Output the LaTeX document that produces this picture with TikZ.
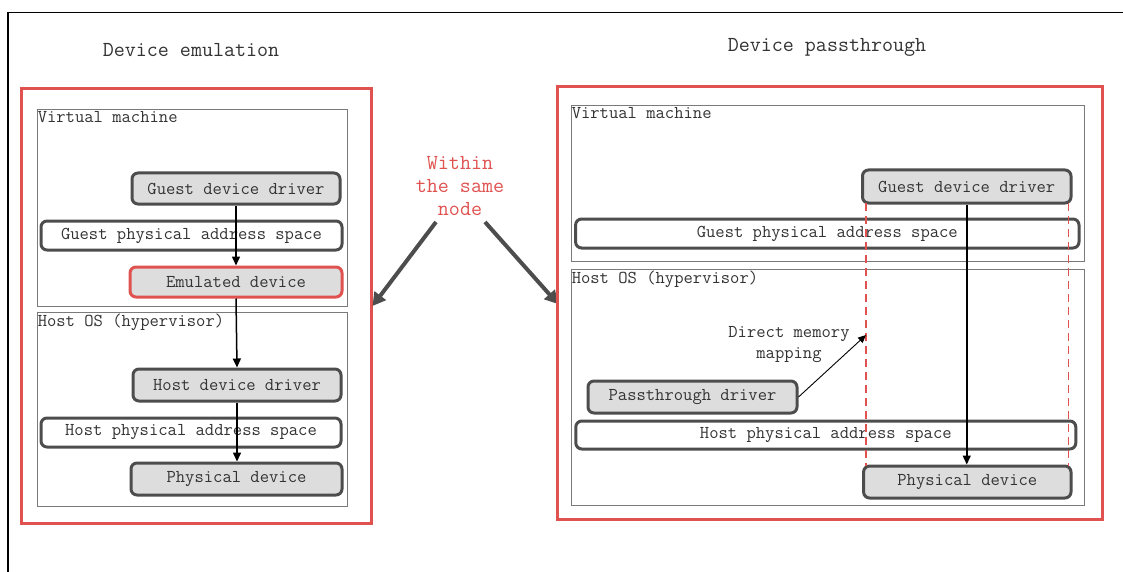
\documentclass[tikz,border=0pt]{standalone}
\usepackage{fontspec}
\usetikzlibrary{arrows.meta}
\definecolor{redc}{HTML}{DF5250}
\definecolor{boxd}{HTML}{4D4D4D}
\definecolor{boxf}{HTML}{DDDDDD}
\definecolor{txt}{HTML}{333333}
\definecolor{cont}{HTML}{7A7A7A}
\newcommand{\bodyfont}{\ttfamily\fontsize{18.1}{21}\selectfont}
\newcommand{\titlefont}{\ttfamily\fontsize{21.4}{23}\selectfont}
\tikzset{
  cbox/.style={draw=cont, line width=0.9pt, inner sep=0pt},
  dev/.style={draw=boxd, fill=boxf, line width=3pt, rounded corners=6pt, inner sep=0pt,
    font=\bodyfont, text=txt},
  space/.style={dev, fill=white},
  lbl/.style={font=\bodyfont, text=txt, inner xsep=1pt, inner ysep=2.5pt, anchor=north west},
  title/.style={font=\titlefont, text=txt},
  flow/.style={draw=black, line width=1.5pt, -{Triangle[length=9pt,width=8pt]}},
  bigarrow/.style={draw=boxd, line width=4pt, -{Triangle[length=13pt,width=14pt]}},
  dashline/.style={draw=redc, line width=1.3pt, dash pattern=on 8pt off 5pt},
}
\begin{document}
\begin{tikzpicture}[x=1pt,y=-1pt]
\useasboundingbox (0,0) rectangle (1123,572);
% outer frame (partially visible)
\draw[line width=1.2pt, black] (8,572) -- (8,12.5) -- (1123,12.5);

% ---------- Left: device emulation ----------
\node[title] (tL) at (191,50) {Device emulation};
\node[draw=redc, line width=3pt, minimum width=350pt, minimum height=434pt, inner sep=0pt] (redL) at (196,306) {};
\node[cbox, minimum width=310pt, minimum height=197pt] (vmL) at (192,207.5) {};
\node[lbl] (vmLl) at (vmL.north west) {Virtual machine};
\node[cbox, minimum width=310pt, minimum height=194pt] (hostL) at (192,409) {};
\node[lbl] (hostLl) at (hostL.north west) {Host OS (hypervisor)};

\node[dev, minimum width=208pt, minimum height=31pt] (gddL) at (236,188.5) {Guest device driver};
\node[space, minimum width=301pt, minimum height=29pt] (gpasL) at (191.5,235.5) {Guest physical address space};
\node[dev, draw=redc, minimum width=212pt, minimum height=30pt] (emuL) at (236,282) {Emulated device};
\node[dev, minimum width=208pt, minimum height=32pt] (hddL) at (237,385) {Host device driver};
\node[space, minimum width=300pt, minimum height=29pt] (hpasL) at (191,432.5) {Host physical address space};
\node[dev, minimum width=211pt, minimum height=32pt] (pdL) at (236.5,479) {Physical device};

\draw[flow] (gddL.south) -- (gddL.south |- emuL.north);
\draw[flow] (emuL.south) -- (hddL.north);
\draw[flow] (hddL.south) -- (hddL.south |- pdL.north);

% ---------- Middle label ----------
\node[title, text=redc, align=center] (within) at (460,186) {Within\\the same\\node};
\coordinate (a1s) at (436,222);
\coordinate (a2s) at (485,222);
\draw[bigarrow] (a1s) -- (redL.east);
\coordinate (a2e) at (558,304);
\draw[bigarrow] (a2s) -- (a2e);

% ---------- Right: device passthrough ----------
\node[title] (tR) at (827,47) {Device passthrough};
\node[draw=redc, line width=3pt, minimum width=545pt, minimum height=432pt, inner sep=0pt] (redR) at (829.5,303) {};
\node[cbox, minimum width=513pt, minimum height=156pt] (vmR) at (827.5,183) {};
\node[lbl] (vmRl) at (vmR.north west) {Virtual machine};
\node[cbox, minimum width=513pt, minimum height=236pt] (hostR) at (827.5,387) {};
\node[lbl] (hostRl) at (hostR.north west) {Host OS (hypervisor)};

\node[dev, minimum width=208.5pt, minimum height=33pt] (gddR) at (966.75,186.5) {Guest device driver};
\node[space, minimum width=503.4pt, minimum height=29pt] (gpasR) at (827.3,233.5) {Guest physical address space};
\node[dev, minimum width=209pt, minimum height=32pt] (ptd) at (692.5,397) {Passthrough driver};
\node[space, minimum width=500pt, minimum height=28pt] (hpasR) at (825.8,435) {Host physical address space};
\node[dev, minimum width=207.4pt, minimum height=32pt] (pdR) at (967.3,482) {Physical device};

\coordinate (d1t) at (866,203);
\coordinate (d1b) at (866,466);
\coordinate (d2t) at (1068.6,203);
\coordinate (d2b) at (1068.6,466);
\draw[dashline] (d1t) -- (d1b);
\draw[dashline] (d2t) -- (d2b);

\draw[flow] (gddR.south) -- (gddR.south |- pdR.north);

\node[font=\bodyfont, text=txt, align=center] (dmm) at (789,344.5) {Direct memory\\mapping};
\coordinate (dmmE) at (866,335);
\draw[draw=black, line width=0.9pt, -{Triangle[length=8pt,width=7pt]}] (ptd.east) -- (dmmE);
\end{tikzpicture}
\end{document}
